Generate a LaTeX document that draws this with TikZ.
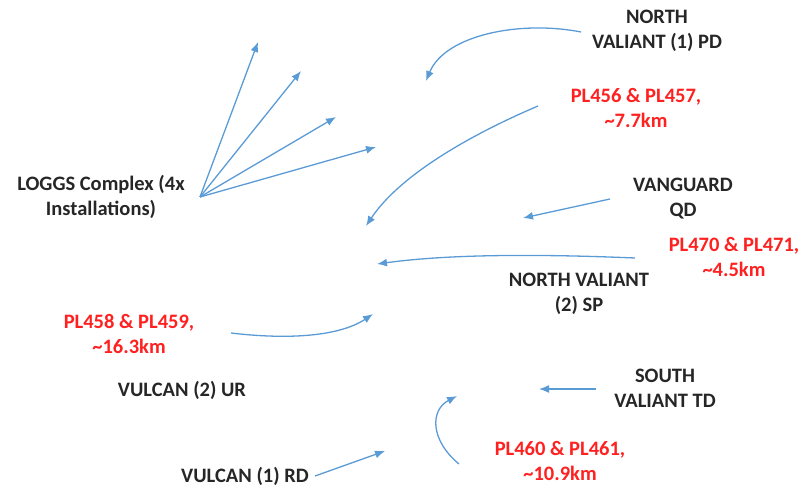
\documentclass[tikz,border=0pt]{standalone}
\usepackage{fontspec}
\setmainfont{Carlito}
\usetikzlibrary{arrows.meta}
\definecolor{arrblue}{HTML}{5B9BD5}
\definecolor{labred}{HTML}{FF2020}
\tikzset{
  lab/.style={font=\bfseries\fontsize{20.5}{25}\selectfont, align=center, text=black!85, inner sep=0pt},
  redlab/.style={lab, text=labred},
  pipe/.style={draw=arrblue, line width=1.3pt, -{Latex[length=10pt,width=8pt]}}
}
\begin{document}
\begin{tikzpicture}[x=1pt,y=-1pt]
\useasboundingbox (0,0) rectangle (802,489);
\node[lab] (nv1) at (657,31) {NORTH\\VALIANT (1) PD};
\node[redlab] (pl456) at (636,108) {PL456 \& PL457,\\\textasciitilde7.7km};
\node[lab] (loggs) at (101,197) {LOGGS Complex (4x\\Installations)};
\node[lab] (vang) at (683,199) {VANGUARD\\QD};
\node[redlab] (pl470) at (734,257) {PL470 \& PL471,\\\textasciitilde4.5km};
\node[lab] (nv2) at (579,294) {NORTH VALIANT\\(2) SP};
\node[redlab] (pl458) at (129,334) {PL458 \& PL459,\\\textasciitilde16.3km};
\node[lab] (vul2) at (182,390) {VULCAN (2) UR};
\node[lab] (sv) at (665,388) {SOUTH\\VALIANT TD};
\node[redlab] (pl460) at (560,461) {PL460 \& PL461,\\\textasciitilde10.9km};
\node[lab] (vul1) at (245,476) {VULCAN (1) RD};

\coordinate (lo) at (200,197);
\coordinate (t1) at (258,42);
\coordinate (t2) at (301,71);
\coordinate (t3) at (336,117);
\coordinate (t4) at (376,147);
\draw[pipe] (lo) -- (t1);
\draw[pipe] (lo) -- (t2);
\draw[pipe] (lo) -- (t3);
\draw[pipe] (lo) -- (t4);

\coordinate (a1s) at (581,32);
\coordinate (a1e) at (426,81);
\draw[pipe] (a1s) .. controls (520,20) and (445,35) .. (a1e);

\coordinate (a2s) at (538,106);
\coordinate (a2e) at (366,226);
\draw[pipe] (a2s) .. controls (470,135) and (400,175) .. (a2e);

\coordinate (a3s) at (610,199);
\coordinate (a3e) at (523,218);
\draw[pipe] (a3s) -- (a3e);

\coordinate (a4s) at (635,258);
\coordinate (a4e) at (377,264);
\draw[pipe] (a4s) .. controls (540,254) and (450,254) .. (a4e);

\coordinate (a5s) at (231,333);
\coordinate (a5e) at (373,314);
\draw[pipe] (a5s) .. controls (290,340) and (340,336) .. (a5e);

\coordinate (a6s) at (596,389);
\coordinate (a6e) at (539,389);
\draw[pipe] (a6s) -- (a6e);

\coordinate (a7s) at (459,464);
\coordinate (a7e) at (457,396);
\draw[pipe] (a7s) .. controls (430,440) and (430,410) .. (a7e);

\coordinate (a8s) at (315,476);
\coordinate (a8e) at (385,451);
\draw[pipe] (a8s) -- (a8e);
\end{tikzpicture}
\end{document}
